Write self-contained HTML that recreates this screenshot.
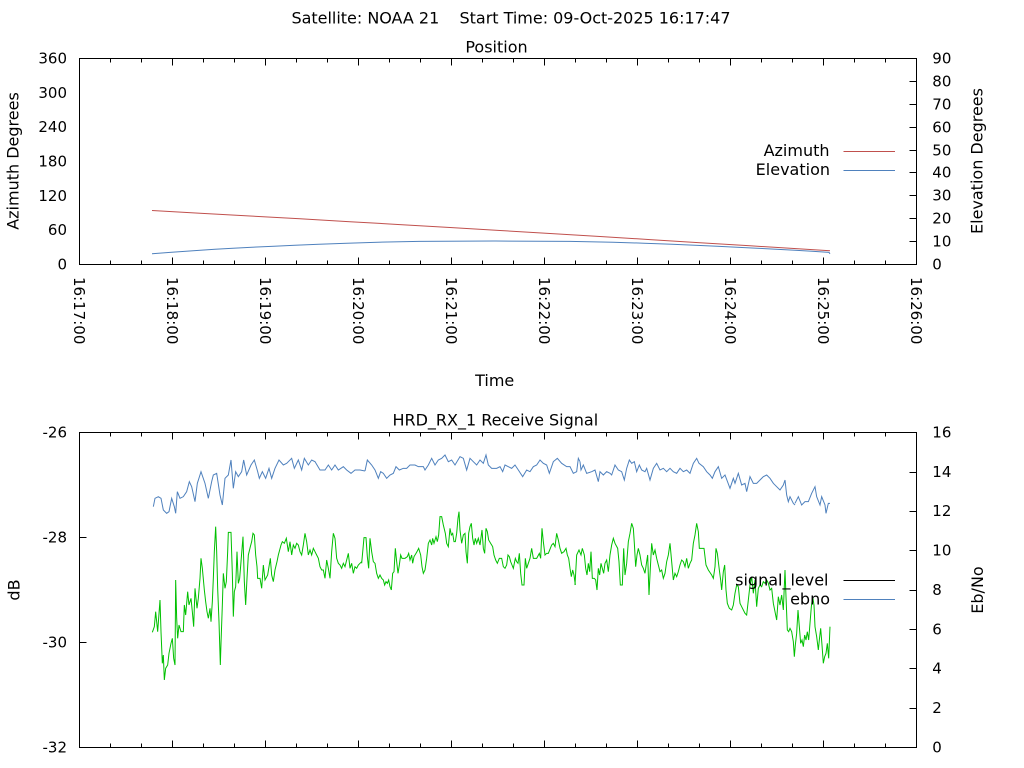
<!DOCTYPE html>
<html><head><meta charset="utf-8"><style>
html,body{margin:0;padding:0;background:#fff;}
svg{display:block;}
text{font-family:"DejaVu Sans","Liberation Sans",sans-serif;fill:#000;}
.t{font-size:15px;}
.l{font-size:16px;}
</style></head><body>
<svg width="1024" height="768" viewBox="0 0 1024 768" xmlns="http://www.w3.org/2000/svg">
<rect width="1024" height="768" fill="#fff"/>

<text class="l" x="291.5" y="23.3" textLength="439" lengthAdjust="spacing" xml:space="preserve">Satellite: NOAA 21    Start Time: 09-Oct-2025 16:17:47</text>

<!-- ===== TOP PLOT ===== -->
<text class="l" x="496.5" y="52.5" text-anchor="middle">Position</text>
<rect x="79.5" y="58.5" width="837" height="206" fill="none" stroke="#000" stroke-width="1"/>
<path stroke="#000" stroke-width="1" fill="none" d="
M172.5 264.5v-7M265.5 264.5v-7M358.5 264.5v-7M451.5 264.5v-7M544.5 264.5v-7M637.5 264.5v-7M730.5 264.5v-7M823.5 264.5v-7
M172.5 58.5v7M265.5 58.5v7M358.5 58.5v7M451.5 58.5v7M544.5 58.5v7M637.5 58.5v7M730.5 58.5v7M823.5 58.5v7
M110.5 264.5v-4M141.5 264.5v-4M203.5 264.5v-4M234.5 264.5v-4M296.5 264.5v-4M327.5 264.5v-4M389.5 264.5v-4M420.5 264.5v-4M482.5 264.5v-4M513.5 264.5v-4M575.5 264.5v-4M606.5 264.5v-4M668.5 264.5v-4M699.5 264.5v-4M761.5 264.5v-4M792.5 264.5v-4M854.5 264.5v-4M885.5 264.5v-4
M110.5 58.5v4M141.5 58.5v4M203.5 58.5v4M234.5 58.5v4M296.5 58.5v4M327.5 58.5v4M389.5 58.5v4M420.5 58.5v4M482.5 58.5v4M513.5 58.5v4M575.5 58.5v4M606.5 58.5v4M668.5 58.5v4M699.5 58.5v4M761.5 58.5v4M792.5 58.5v4M854.5 58.5v4M885.5 58.5v4
M916.5 241.5h-7M916.5 218.5h-7M916.5 195.5h-7M916.5 172.5h-7M916.5 150.5h-7M916.5 127.5h-7M916.5 104.5h-7M916.5 81.5h-7
"/>
<g class="t" text-anchor="end">
<text x="67" y="269.5">0</text>
<text x="67" y="235">60</text>
<text x="67" y="201">120</text>
<text x="67" y="166.5">180</text>
<text x="67" y="132">240</text>
<text x="67" y="98">300</text>
<text x="67" y="63.5">360</text>
</g>
<g class="t">
<text x="932.3" y="269.5">0</text>
<text x="932.3" y="246.5">10</text>
<text x="932.3" y="223.5">20</text>
<text x="932.3" y="200.5">30</text>
<text x="932.3" y="177.5">40</text>
<text x="932.3" y="155.5">50</text>
<text x="932.3" y="132.5">60</text>
<text x="932.3" y="109.5">70</text>
<text x="932.3" y="86.5">80</text>
<text x="932.3" y="63.5">90</text>
</g>
<g class="t">
<text transform="translate(74,277) rotate(90)">16:17:00</text>
<text transform="translate(167,277) rotate(90)">16:18:00</text>
<text transform="translate(260,277) rotate(90)">16:19:00</text>
<text transform="translate(353,277) rotate(90)">16:20:00</text>
<text transform="translate(446,277) rotate(90)">16:21:00</text>
<text transform="translate(539,277) rotate(90)">16:22:00</text>
<text transform="translate(632,277) rotate(90)">16:23:00</text>
<text transform="translate(725,277) rotate(90)">16:24:00</text>
<text transform="translate(818,277) rotate(90)">16:25:00</text>
<text transform="translate(911,277) rotate(90)">16:26:00</text>
</g>
<text class="l" x="494.7" y="386" text-anchor="middle">Time</text>
<text class="l" transform="translate(18.5,161) rotate(-90)" text-anchor="middle">Azimuth Degrees</text>
<text class="l" transform="translate(982.5,161) rotate(-90)" text-anchor="middle">Elevation Degrees</text>

<polyline fill="none" stroke="#c0504d" stroke-width="1" points="152,210.5 200,213.2 250,216 300,218.8 350,221.7 400,224.6 450,227.5 500,230.5 550,233.5 600,236.5 650,239.6 700,242.7 750,245.8 800,248.9 830,250.8"/>
<polyline fill="none" stroke="#4f81bd" stroke-width="1" points="152,253.8 170,252.4 195,250.6 215,249.3 233,248.2 252,247.2 274,246.2 295,245.2 319,244.2 347,243.2 378,242.2 419,241.4 495,241 570,241.4 613,242.2 644,243.2 672,244.2 695,245.2 717,246.2 737,247.2 757,248.2 776,249.2 795,250.2 812,251.2 829,252.4 830,253.8"/>

<text class="l" x="829.5" y="156" text-anchor="end">Azimuth</text>
<line x1="843.5" y1="151.5" x2="895" y2="151.5" stroke="#c0504d" stroke-width="1"/>
<text class="l" x="830" y="175" text-anchor="end">Elevation</text>
<line x1="843.5" y1="170.5" x2="895" y2="170.5" stroke="#4f81bd" stroke-width="1"/>

<!-- ===== BOTTOM PLOT ===== -->
<text class="l" x="495.3" y="425.5" text-anchor="middle">HRD_RX_1 Receive Signal</text>
<rect x="79.5" y="432.5" width="837" height="315" fill="none" stroke="#000" stroke-width="1"/>
<path stroke="#000" stroke-width="1" fill="none" d="
M172.5 747.5v-7M265.5 747.5v-7M358.5 747.5v-7M451.5 747.5v-7M544.5 747.5v-7M637.5 747.5v-7M730.5 747.5v-7M823.5 747.5v-7
M172.5 432.5v7M265.5 432.5v7M358.5 432.5v7M451.5 432.5v7M544.5 432.5v7M637.5 432.5v7M730.5 432.5v7M823.5 432.5v7
M110.5 747.5v-4M141.5 747.5v-4M203.5 747.5v-4M234.5 747.5v-4M296.5 747.5v-4M327.5 747.5v-4M389.5 747.5v-4M420.5 747.5v-4M482.5 747.5v-4M513.5 747.5v-4M575.5 747.5v-4M606.5 747.5v-4M668.5 747.5v-4M699.5 747.5v-4M761.5 747.5v-4M792.5 747.5v-4M854.5 747.5v-4M885.5 747.5v-4
M110.5 432.5v4M141.5 432.5v4M203.5 432.5v4M234.5 432.5v4M296.5 432.5v4M327.5 432.5v4M389.5 432.5v4M420.5 432.5v4M482.5 432.5v4M513.5 432.5v4M575.5 432.5v4M606.5 432.5v4M668.5 432.5v4M699.5 432.5v4M761.5 432.5v4M792.5 432.5v4M854.5 432.5v4M885.5 432.5v4
M79.5 537.5h7M79.5 642.5h7
M916.5 708.5h-7M916.5 668.5h-7M916.5 629.5h-7M916.5 590.5h-7M916.5 550.5h-7M916.5 511.5h-7M916.5 472.5h-7
"/>
<g class="t" text-anchor="end">
<text x="67" y="437.5">-26</text>
<text x="67" y="542.5">-28</text>
<text x="67" y="647.5">-30</text>
<text x="67" y="752.5">-32</text>
</g>
<g class="t">
<text x="932.3" y="752.5">0</text>
<text x="932.3" y="713">2</text>
<text x="932.3" y="673.5">4</text>
<text x="932.3" y="634.5">6</text>
<text x="932.3" y="595">8</text>
<text x="932.3" y="555.5">10</text>
<text x="932.3" y="516">12</text>
<text x="932.3" y="477">14</text>
<text x="932.3" y="437.5">16</text>
</g>
<text class="l" transform="translate(19.3,590) rotate(-90)" text-anchor="middle">dB</text>
<text class="l" transform="translate(983,590) rotate(-90)" text-anchor="middle">Eb/No</text>

<!-- ebno (blue) -->
<g transform="translate(145,445) scale(0.333333)">
<polyline fill="none" stroke="#4f81bd" stroke-width="1" vector-effect="non-scaling-stroke" points="25,185 30,160 40,155 48,160 55,195 65,205 72,200 80,160 88,185 92,205 97,140 105,160 115,155 125,140 133,110 140,125 150,170 157,115 168,80 180,115 190,160 200,110 205,90 215,85 225,150 232,180 240,100 250,90 258,45 265,130 272,80 280,95 290,80 296,45 305,90 318,60 328,45 338,80 343,100 352,80 362,100 372,70 380,100 390,70 402,45 415,60 425,55 440,40 448,70 460,45 470,75 478,40 490,60 500,45 510,50 525,75 540,75 550,60 560,75 570,60 580,75 595,65 605,75 618,85 630,75 645,75 660,78"/>
</g>
<g transform="translate(360,445) scale(0.333333)">
<polyline fill="none" stroke="#4f81bd" stroke-width="1" vector-effect="non-scaling-stroke" points="15,78 22,45 35,60 45,75 55,100 62,80 70,85 80,100 90,90 100,85 108,65 118,75 130,70 140,70 150,60 165,60 175,65 190,65 195,75 205,60 215,40 225,60 235,45 245,40 255,30 265,50 275,45 285,60 300,35 310,40 320,75 330,40 340,50 350,60 360,45 370,55 378,30 385,60 395,70 410,70 420,65 428,80 435,60 445,65 455,70 465,60 475,75 488,95 500,75 510,80 520,65 530,60 540,45 550,55 560,60 568,85 580,50 592,40 605,55 620,65 630,65 640,85 650,80 655,40 660,50"/>
</g>
<g transform="translate(575,445) scale(0.333333)">
<polyline fill="none" stroke="#4f81bd" stroke-width="1" vector-effect="non-scaling-stroke" points="15,50 18,75 25,60 35,85 50,80 60,75 70,110 75,80 85,90 95,80 105,85 110,90 120,60 130,75 140,80 148,105 155,70 163,45 170,55 178,50 185,80 193,60 200,75 210,80 215,70 225,105 235,70 245,55 255,75 265,70 275,80 285,70 295,80 305,85 315,70 325,80 335,75 345,85 355,55 365,40 372,55 385,65 395,80 405,90 412,100 420,80 430,65 440,100 450,90 465,130 475,100 480,115 490,85 500,120 510,115 515,140 525,95 535,115 545,115 555,105 565,95 575,90 585,100 595,115 605,125 615,135 625,120 630,105 635,150 640,170 645,155 655,175 660,180"/>
</g>
<g transform="translate(700,480) scale(0.333333)">
<polyline fill="none" stroke="#4f81bd" stroke-width="1" vector-effect="non-scaling-stroke" points="285,70 295,50 305,75 315,65 325,65 335,40 345,20 350,50 360,75 365,50 375,75 378,100 385,70 390,70"/>
</g>

<!-- green signal -->
<g transform="translate(145,445) scale(0.333333)">
<polyline fill="none" stroke="#00c000" stroke-width="1" vector-effect="non-scaling-stroke" points="22,562 28,545 32,500 38,560 45,465 48,560 52,655 55,630 58,705 62,670 68,660 72,625 78,595 82,580 86,640 90,660 92,405 95,520 98,580 102,540 108,560 115,560 118,480 122,510 128,440 132,480 138,460 142,500 146,545 150,430 156,490 160,460 165,400 168,340 172,370 178,435 182,470 186,500 190,520 195,490 198,530 202,470 205,400 208,320 212,245 215,320 218,430 222,530 226,660 228,595 232,480 235,385 240,430 244,410 248,320 250,262 258,262 262,385 265,515 268,440 272,425 276,320 280,415 284,400 288,350 294,275 298,410 302,480 306,400 310,330 316,305 320,290 324,265 328,270 332,330 336,365 338,400 345,400 350,430 355,360 360,405 368,390 376,340 380,390 385,410 390,375 396,350 400,330 408,300 412,290 418,295 424,280 430,320 435,290 440,330 445,300 450,310 455,295 460,300 465,320 470,330 475,300 480,265 485,290 490,330 495,315 500,330 505,310 510,320 515,330 520,340 525,365 530,375 535,375 540,400 545,345 550,370 555,400 560,320 565,265 570,280 575,340 580,355 585,360 590,370 595,355 600,365 605,345 610,325 615,370 620,355 625,385 630,365 635,370 640,360 645,355 650,350"/>
</g>
<g transform="translate(360,445) scale(0.333333)">
<polyline fill="none" stroke="#00c000" stroke-width="1" vector-effect="non-scaling-stroke" points="5,355 12,278 18,278 22,335 26,370 30,280 35,320 40,350 45,355 50,385 55,400 60,390 65,400 70,405 74,420 78,410 82,415 86,405 90,425 94,435 98,385 102,380 106,310 110,350 114,385 118,360 122,330 126,340 135,340 142,335 146,325 150,345 155,330 158,355 162,335 168,325 172,318 176,310 182,330 186,365 190,385 195,375 200,340 205,295 210,285 215,300 218,280 222,295 228,275 232,290 236,270 240,215 245,215 250,240 256,265 260,295 265,305 270,250 274,270 278,265 282,290 286,290 290,265 294,220 297,200 300,255 305,295 310,270 315,265 318,320 322,355 326,265 330,245 334,235 338,280 342,300 346,280 350,295 355,280 360,300 366,255 370,310 374,325 378,250 382,260 386,285 392,295 398,305 402,330 407,345 412,355 418,340 425,340 430,365 435,370 440,360 444,330 448,335 452,350 456,360 460,370 466,340 470,350 474,355 478,325 482,385 486,420 492,420 496,340 500,370 505,355 510,340 515,310 520,340 530,340 538,325 542,340 546,250 550,290 555,330 560,325 565,325 575,300 580,295 585,305 590,265 595,285 600,310 605,325 612,320 618,310 622,330 626,340 630,370 634,395 638,375 642,390 646,420"/>
</g>
<g transform="translate(575,445) scale(0.333333)">
<polyline fill="none" stroke="#00c000" stroke-width="1" vector-effect="non-scaling-stroke" points="0,420 5,330 12,315 18,330 22,310 28,330 32,370 36,390 40,355 44,380 48,320 52,400 58,400 62,405 66,435 70,370 74,390 78,355 82,370 86,385 90,355 95,345 100,380 105,330 110,300 115,280 120,295 128,310 132,350 136,420 142,420 146,310 150,390 155,355 160,290 165,265 170,235 175,250 178,295 182,365 186,330 190,310 195,330 200,360 205,370 210,385 215,350 218,330 222,450 226,370 230,295 235,330 240,315 245,340 250,360 255,380 260,375 265,400 270,385 275,350 280,330 285,295 290,350 295,405 300,385 305,395 310,380 315,360 320,345 325,350 330,365 335,340 340,370 345,355 350,345 355,295 360,270 365,235 370,260 373,310 375,310"/>
</g>
<g transform="translate(700,480) scale(0.333333)">
<polyline fill="none" stroke="#00c000" stroke-width="1" vector-effect="non-scaling-stroke" points="0,205 12,205 18,255 25,270 35,285 40,295 45,260 48,205 52,220 55,245 58,270 62,300 65,330 70,275 74,255 78,330 82,370 88,385 95,390 100,375 105,340 110,315 115,320 120,370 125,380 130,390 135,400 140,405 145,360 150,315 155,290 160,340 165,300 170,380 175,325 180,315 185,320 190,305 195,310 200,300 205,310 210,330 215,325 220,370 225,395 230,420 235,350 240,375 245,345 250,390 255,270 258,350 262,450 266,455 270,445 275,455 280,485 283,530 286,495 290,460 294,390 298,440 302,490 306,480 310,500 314,465 318,480 322,455 326,480 330,430 334,380 338,350 342,375 345,440 350,470 355,510 358,480 362,445 366,495 370,550 374,530 378,520 382,490 386,535 390,440"/>
</g>

<text class="l" x="828.5" y="585.5" text-anchor="end">signal_level</text>
<line x1="843.5" y1="580.5" x2="895" y2="580.5" stroke="#000" stroke-width="1"/>
<text class="l" x="830" y="604.5" text-anchor="end">ebno</text>
<line x1="843.5" y1="599.5" x2="895" y2="599.5" stroke="#4f81bd" stroke-width="1"/>
</svg>
</body></html>
